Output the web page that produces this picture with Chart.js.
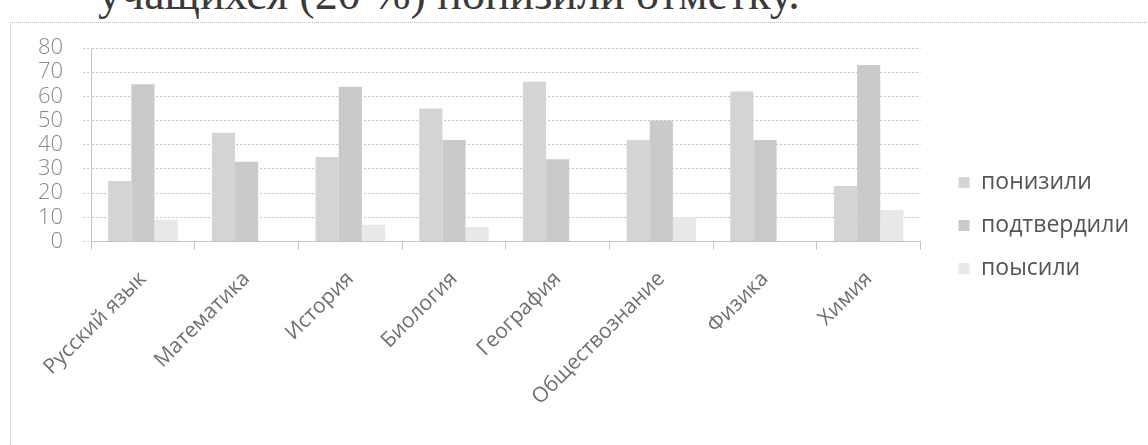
<!DOCTYPE html>
<html>
<head>
<meta charset="utf-8">
<script src="https://cdn.jsdelivr.net/npm/chart.js@4.4.1/dist/chart.umd.min.js"></script>
<style>
  body { margin: 0; background: #fff; overflow: hidden; }
  #wrap { position: relative; width: 1148px; height: 445px; overflow: hidden; }
  #txt { position: absolute; left: 98px; top: -29px; font: 46px "Liberation Serif", serif; color: #3a3a3a; white-space: nowrap; line-height: 1; }
  #frame { position: absolute; left: 10px; top: 22px; width: 1140px; height: 430px; border-left: 1px dotted #bbb; border-top: 1px dotted #bbb; }
  #c { position: absolute; left: 0; top: 0; }
</style>
</head>
<body>
<div id="wrap">
  <div id="txt">учащихся (20 %) понизили отметку.</div>
  <div id="frame"></div>
  <canvas id="c" width="1148" height="445"></canvas>
</div>
<script>
const subjects = ['Русский язык', 'Математика', 'История', 'Биология', 'География', 'Обществознание', 'Физика', 'Химия'];
const lowered = [25, 45, 35, 55, 66, 42, 62, 23];
const confirmed = [65, 33, 64, 42, 34, 50, 42, 73];
const raised = [9, 0, 7, 6, 0, 10, 0, 13];
const seriesNames = ['понизили', 'подтвердили', 'поысили'];

// extra space between plot and legend, legend a bit higher
const legendGap = 18;
const legendLift = 12;
const legendShift = {
    id: 'legendShift',
    beforeInit(chart) {
        const fit = chart.legend.fit;
        chart.legend.fit = function () {
            fit.call(this);
            this.width += legendGap;
        };
    },
    afterLayout(chart) {
        chart.legend.left += legendGap;
        chart.legend.top -= legendLift;
        chart.legend.bottom -= legendLift;
    }
};

new Chart(document.getElementById('c'), {
    type: 'bar',
    data: {
        labels: subjects,
        datasets: [
            { label: seriesNames[0], data: lowered, backgroundColor: 'rgb(212,212,212)' },
            { label: seriesNames[1], data: confirmed, backgroundColor: 'rgb(202,202,202)' },
            { label: seriesNames[2], data: raised, backgroundColor: 'rgb(232,232,232)' }
        ]
    },
    plugins: [legendShift],
    options: {
        responsive: false,
        animation: false,
        categoryPercentage: 0.67,
        barPercentage: 1.0,
        layout: { padding: { left: 18, top: 48, right: 9, bottom: 18 } },
        plugins: {
            tooltip: { enabled: false },
            legend: {
                position: 'right',
                labels: {
                    boxWidth: 11, boxHeight: 11, padding: 20,
                    color: '#555',
                    font: { family: 'Open Sans', size: 23 }
                }
            }
        },
        scales: {
            y: {
                min: 0, max: 80,
                ticks: { stepSize: 10, autoSkip: false, color: '#8a8a8a', padding: 20, font: { family: 'Open Sans', size: 22, weight: 300 } },
                grid: { color: '#c4c4c4', tickLength: 8, tickBorderDash: [2, 2] },
                border: { color: '#c4c4c4', dash: [2, 2] }
            },
            x: {
                ticks: { minRotation: 45, maxRotation: 45, color: '#707070', padding: 17, font: { family: 'Open Sans', size: 21 } },
                grid: { drawOnChartArea: false, offset: true, tickLength: 8, color: '#c4c4c4' },
                border: { color: '#c4c4c4', dash: [2, 2] }
            }
        }
    }
});
</script>
</body>
</html>
